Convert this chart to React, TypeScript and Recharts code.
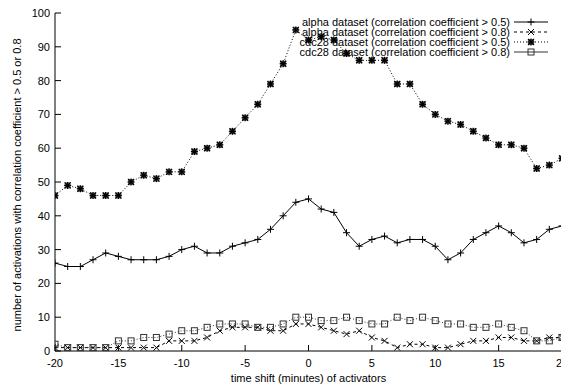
import React from 'react';
import { LineChart, Line, XAxis, YAxis, Legend } from 'recharts';

const timeShift = [-20, -19, -18, -17, -16, -15, -14, -13, -12, -11, -10, -9, -8, -7, -6, -5, -4, -3, -2, -1, 0, 1, 2, 3, 4, 5, 6, 7, 8, 9, 10, 11, 12, 13, 14, 15, 16, 17, 18, 19, 20];
const alpha05 = [26, 25, 25, 27, 29, 28, 27, 27, 27, 28, 30, 31, 29, 29, 31, 32, 33, 36, 40, 44, 45, 42, 41, 35, 31, 33, 34, 32, 33, 33, 31, 27, 29, 33, 35, 37, 35, 32, 33, 36, 37];
const alpha08 = [1, 1, 1, 1, 1, 1, 1, 1, 1, 3, 3, 3, 4, 6, 7, 7, 7, 6, 6, 8, 8, 7, 6, 5, 6, 4, 3, 1, 2, 2, 1, 1, 2, 3, 3, 4, 4, 3, 3, 4, 4];
const cdc05 = [46, 49, 48, 46, 46, 46, 50, 52, 51, 53, 53, 59, 60, 61, 65, 69, 73, 79, 85, 95, 92, 93, 92, 88, 86, 86, 86, 79, 79, 73, 70, 68, 67, 65, 63, 61, 61, 60, 54, 55, 57];
const cdc08 = [2, 1, 1, 1, 1, 3, 3, 4, 4, 5, 6, 6, 7, 8, 8, 8, 7, 7, 8, 10, 10, 9, 9, 10, 9, 8, 8, 10, 9, 10, 9, 8, 8, 7, 7, 8, 7, 6, 3, 3, 4];

const xTicks = [-20, -15, -10, -5, 0, 5, 10, 15, 20];
const yTicks = [0, 10, 20, 30, 40, 50, 60, 70, 80, 90, 100];

const seriesNames = [
  'alpha dataset (correlation coefficient > 0.5)',
  'alpha dataset (correlation coefficient > 0.8)',
  'cdc28 dataset (correlation coefficient > 0.5)',
  'cdc28 dataset (correlation coefficient > 0.8)',
];

const data = timeShift.map((t, i) => ({
  t,
  a5: alpha05[i],
  a8: alpha08[i],
  c5: cdc05[i],
  c8: cdc08[i],
}));

const FONT = '"Liberation Sans", Arial, Helvetica, sans-serif';
const INK = '#000';
const GREY = '#333';

type MarkKind = 'plus' | 'cross' | 'star' | 'box';

const drawMark = (kind: MarkKind, cx: number, cy: number, color: string, key?: string | number) => {
  const r = 3.5;
  const d = 3;
  const parts: React.ReactNode[] = [];
  if (kind === 'star') {
    parts.push(
      <rect key="bg" x={cx - 3} y={cy - 3} width={6} height={6} fill="#777" stroke="none" />
    );
  }
  if (kind === 'plus' || kind === 'star') {
    parts.push(<line key="h" x1={cx - r} x2={cx + r} y1={cy} y2={cy} />);
    parts.push(<line key="v" x1={cx} x2={cx} y1={cy - r} y2={cy + r} />);
  }
  if (kind === 'cross' || kind === 'star') {
    parts.push(<line key="d1" x1={cx - d} x2={cx + d} y1={cy - d} y2={cy + d} />);
    parts.push(<line key="d2" x1={cx - d} x2={cx + d} y1={cy + d} y2={cy - d} />);
  }
  if (kind === 'box') {
    parts.push(<rect key="b" x={cx - 3} y={cy - 3} width={6} height={6} fill="none" />);
  }
  return (
    <g key={key} stroke={color} strokeWidth={kind === 'star' ? 1.3 : 1} fill="none">
      {parts}
    </g>
  );
};

const makeDot = (kind: MarkKind, color: string) => (props: any) => {
  const { cx, cy, index } = props;
  if (cx == null || cy == null) return <g key={`e${index}`} />;
  return drawMark(kind, cx, cy, color, `${kind}-${index}`);
};

const BottomTick = (props: any) => {
  const { x, y, payload } = props;
  return (
    <g>
      <line x1={x} x2={x} y1={y} y2={y - 6} stroke={INK} />
      <text x={x} y={y + 16} textAnchor="middle" fontSize={11} fontFamily={FONT} fill={INK}>
        {payload.value}
      </text>
    </g>
  );
};

const TopTick = (props: any) => {
  const { x, y } = props;
  return <line x1={x} x2={x} y1={y} y2={y + 6} stroke={INK} />;
};

const LeftTick = (props: any) => {
  const { x, y, payload } = props;
  return (
    <g>
      <line x1={x} x2={x + 6} y1={y} y2={y} stroke={INK} />
      <text x={x - 5} y={y + 4} textAnchor="end" fontSize={11} fontFamily={FONT} fill={INK}>
        {payload.value}
      </text>
    </g>
  );
};

const RightTick = (props: any) => {
  const { x, y } = props;
  return <line x1={x} x2={x - 6} y1={y} y2={y} stroke={INK} />;
};

const legendStyles: { kind: MarkKind; dash?: string; color: string }[] = [
  { kind: 'plus', color: INK },
  { kind: 'cross', dash: '3 3', color: INK },
  { kind: 'star', dash: '1 2', color: INK },
  { kind: 'box', color: GREY },
];

const renderLegend = () => {
  const textEnd = 220;
  const lineStart = 224;
  const lineEnd = 258;
  return (
    <svg width={270} height={50} style={{ overflow: 'visible', display: 'block' }}>
      {seriesNames.map((name, i) => {
        const base = 12 + i * 10;
        const mid = base - 4;
        const st = legendStyles[i];
        return (
          <g key={name}>
            <text x={textEnd} y={base} textAnchor="end" fontSize={11} fontFamily={FONT} fill={INK}>
              {name}
            </text>
            <line
              x1={lineStart}
              x2={lineEnd}
              y1={mid}
              y2={mid}
              stroke={st.color}
              strokeDasharray={st.dash}
            />
            {drawMark(st.kind, (lineStart + lineEnd) / 2, mid, st.color)}
          </g>
        );
      })}
    </svg>
  );
};

const XLabel = (props: any) => {
  const vb = props.viewBox || {};
  return (
    <text
      x={vb.x + vb.width / 2}
      y={vb.y + 31}
      textAnchor="middle"
      fontSize={11}
      fontFamily={FONT}
      fill={INK}
    >
      time shift (minutes) of activators
    </text>
  );
};

const YLabel = (props: any) => {
  const vb = props.viewBox || {};
  const cx = vb.x + 21;
  const cy = vb.y + vb.height / 2 + 3;
  return (
    <text
      x={cx}
      y={cy}
      transform={`rotate(-90 ${cx} ${cy})`}
      textAnchor="middle"
      fontSize={11}
      fontFamily={FONT}
      fill={INK}
    >
      number of activations with correlation coefficient &gt; 0.5 or 0.8
    </text>
  );
};

export default function App() {
  return (
    <div
      style={{
        position: 'absolute',
        left: 0,
        top: 0,
        width: 561,
        height: 385,
        overflow: 'hidden',
        background: '#fff',
      }}
    >
      <LineChart
        width={566}
        height={385}
        data={data}
        margin={{ top: 13, right: 4, bottom: 0, left: 0 }}
        style={{ fontFamily: FONT }}
      >
        <XAxis
          dataKey="t"
          type="number"
          domain={[-20, 20]}
          ticks={xTicks}
          interval={0}
          height={34}
          tickSize={0}
          tickMargin={0}
          tickLine={false}
          axisLine={{ stroke: INK }}
          tick={BottomTick}
          allowDataOverflow
          label={<XLabel />}
        />
        <XAxis
          xAxisId="top"
          dataKey="t"
          type="number"
          orientation="top"
          domain={[-20, 20]}
          ticks={xTicks}
          interval={0}
          height={0}
          tickSize={0}
          tickMargin={0}
          tickLine={false}
          axisLine={{ stroke: INK }}
          tick={TopTick}
        />
        <YAxis
          type="number"
          domain={[0, 100]}
          ticks={yTicks}
          interval={0}
          width={55}
          tickSize={0}
          tickMargin={0}
          tickLine={false}
          axisLine={{ stroke: INK }}
          tick={LeftTick}
          label={<YLabel />}
        />
        <YAxis
          yAxisId="right"
          type="number"
          orientation="right"
          domain={[0, 100]}
          ticks={yTicks}
          interval={0}
          width={0}
          tickSize={0}
          tickMargin={0}
          tickLine={false}
          axisLine={{ stroke: INK }}
          tick={RightTick}
        />
        <Line
          dataKey="a5"
          name={seriesNames[0]}
          stroke={INK}
          strokeWidth={1}
          dot={makeDot('plus', INK)}
          activeDot={false}
          isAnimationActive={false}
        />
        <Line
          dataKey="a8"
          name={seriesNames[1]}
          stroke={INK}
          strokeWidth={1}
          strokeDasharray="3 3"
          dot={makeDot('cross', INK)}
          activeDot={false}
          isAnimationActive={false}
        />
        <Line
          dataKey="c5"
          name={seriesNames[2]}
          stroke={INK}
          strokeWidth={1}
          strokeDasharray="1 2"
          dot={makeDot('star', INK)}
          activeDot={false}
          isAnimationActive={false}
        />
        <Line
          dataKey="c8"
          name={seriesNames[3]}
          stroke={GREY}
          strokeWidth={1}
          strokeDasharray="1 2"
          dot={makeDot('box', GREY)}
          activeDot={false}
          isAnimationActive={false}
        />
        <Legend
          layout="horizontal"
          verticalAlign="middle"
          align="center"
          content={renderLegend}
          wrapperStyle={{ position: 'absolute', left: 290, top: 14, width: 270, height: 50 }}
        />
      </LineChart>
    </div>
  );
}
